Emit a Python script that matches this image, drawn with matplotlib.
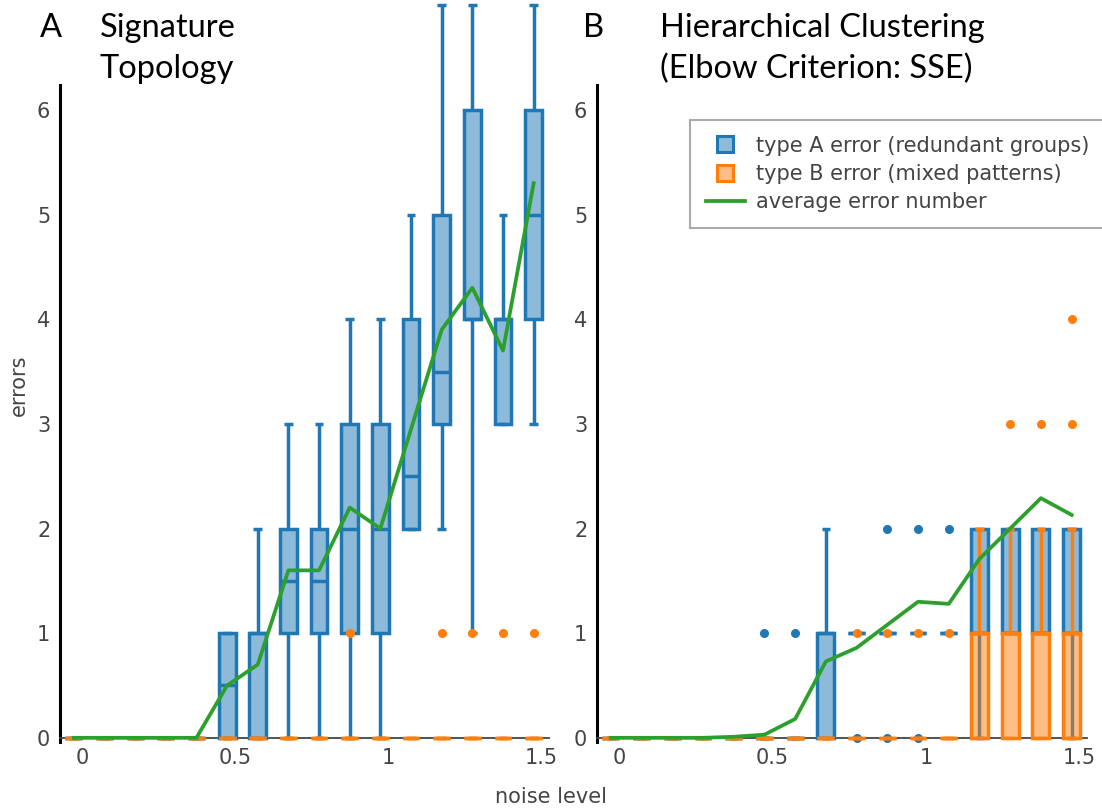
import matplotlib.pyplot as plt
from matplotlib.lines import Line2D
from matplotlib.transforms import ScaledTranslation

plt.rcParams['font.family'] = ['DejaVu Sans']

noise = [0.0, 0.1, 0.2, 0.3, 0.4, 0.5, 0.6, 0.7, 0.8, 0.9, 1.0, 1.1, 1.2, 1.3, 1.4, 1.5]

# A: signature topology -- type A errors (box stats per noise level)
topo_a_q1 = [0, 0, 0, 0, 0, 0, 0, 1, 1, 1, 1, 2, 3, 4, 3, 4]
topo_a_med = [0, 0, 0, 0, 0, 0.5, 1, 1.5, 1.5, 2, 2, 2.5, 3.5, 4, 4, 5]
topo_a_q3 = [0, 0, 0, 0, 0, 1, 1, 2, 2, 3, 3, 4, 5, 6, 4, 6]
topo_a_lo = [0, 0, 0, 0, 0, 0, 0, 0, 0, 0, 0, 2, 2, 1, 3, 3]
topo_a_hi = [0, 0, 0, 0, 0, 1, 2, 3, 3, 4, 4, 5, 7, 7, 5, 7]
topo_a_out = [[] for _ in noise]

# A: type B errors are zero everywhere except a few outliers
topo_b_q1 = [0] * 16
topo_b_med = [0] * 16
topo_b_q3 = [0] * 16
topo_b_lo = [0] * 16
topo_b_hi = [0] * 16
topo_b_out = [[], [], [], [], [], [], [], [], [], [1], [], [], [1], [1], [1], [1]]

topo_avg = [0, 0, 0, 0, 0, 0.5, 0.7, 1.6, 1.6, 2.2, 2.0, 2.95, 3.9, 4.3, 3.7, 5.3]

# B: hierarchical clustering (elbow / SSE)
hier_a_q1 = [0, 0, 0, 0, 0, 0, 0, 0, 1, 1, 1, 1, 1, 1, 1, 1]
hier_a_med = [0, 0, 0, 0, 0, 0, 0, 1, 1, 1, 1, 1, 1, 1, 1, 1]
hier_a_q3 = [0, 0, 0, 0, 0, 0, 0, 1, 1, 1, 1, 1, 2, 2, 2, 2]
hier_a_lo = [0, 0, 0, 0, 0, 0, 0, 0, 1, 1, 1, 1, 0, 1, 1, 0]
hier_a_hi = [0, 0, 0, 0, 0, 0, 0, 2, 1, 1, 1, 1, 2, 2, 2, 2]
hier_a_out = [[], [], [], [], [], [1], [1], [], [0], [0, 2], [0, 2], [2], [], [], [], []]

hier_b_q1 = [0] * 16
hier_b_med = [0] * 12 + [1, 1, 1, 1]
hier_b_q3 = [0] * 12 + [1, 1, 1, 1]
hier_b_lo = [0] * 16
hier_b_hi = [0] * 12 + [2, 2, 2, 2]
hier_b_out = [[], [], [], [], [], [], [], [], [1], [1], [1], [1], [], [3], [3], [3, 4]]

hier_avg = [0, 0, 0, 0, 0.01, 0.03, 0.18, 0.73, 0.86, 1.08, 1.30, 1.28, 1.71, 2.0, 2.29, 2.13]

BLUE = '#1f77b4'
ORANGE = '#ff7f0e'
GREEN = '#2ca02c'
GREY = '#444444'
LW = 2.5


def box_stats(q1, med, q3, lo, hi, out):
    return [dict(q1=a, med=b, q3=c, whislo=d, whishi=e, fliers=f)
            for a, b, c, d, e, f in zip(q1, med, q3, lo, hi, out)]


def draw_boxes(ax, stats, color, z):
    line = dict(color=color, linewidth=LW, zorder=z, solid_capstyle='butt')
    ax.bxp(stats, positions=noise, widths=0.055, capwidths=0.028,
           patch_artist=True, manage_ticks=False,
           boxprops=dict(facecolor=color + '80', edgecolor=color,
                         linewidth=LW, zorder=z),
           medianprops=line, whiskerprops=line, capprops=line,
           flierprops=dict(marker='o', markersize=6.5, markerfacecolor=color,
                           markeredgecolor='none', zorder=z))


def style_axes(ax):
    ax.set_xlim(-0.045, 1.55)
    ax.set_ylim(-0.04, 7.05)
    for s in ('top', 'right'):
        ax.spines[s].set_visible(False)
    ax.spines['left'].set_bounds(-0.04, 6.24)
    ax.spines['left'].set_linewidth(2.2)
    ax.spines['left'].set_color('black')
    ax.spines['bottom'].set_position(('data', 0))
    ax.spines['bottom'].set_color(GREY)
    ax.spines['bottom'].set_linewidth(1.3)
    ax.set_xticks([0, 0.5, 1, 1.5], ['0', '0.5', '1', '1.5'])
    ax.set_yticks(range(7))
    ax.tick_params(length=0, labelsize=15, labelcolor=GREY, pad=7)
    # tick labels sit a little right of the data positions
    nudge = ScaledTranslation(8 / 100, 0, fig.dpi_scale_trans)
    for lab in ax.get_xticklabels():
        lab.set_transform(lab.get_transform() + nudge)


fig = plt.figure(figsize=(11.02, 8.10), dpi=100)
W, H = 1102, 810
ax1 = fig.add_axes([60 / W, 68 / H, 489 / W, 742 / H])
ax2 = fig.add_axes([597 / W, 68 / H, 490 / W, 742 / H])

panels = [
    (ax1, box_stats(topo_a_q1, topo_a_med, topo_a_q3, topo_a_lo, topo_a_hi, topo_a_out),
     box_stats(topo_b_q1, topo_b_med, topo_b_q3, topo_b_lo, topo_b_hi, topo_b_out), topo_avg),
    (ax2, box_stats(hier_a_q1, hier_a_med, hier_a_q3, hier_a_lo, hier_a_hi, hier_a_out),
     box_stats(hier_b_q1, hier_b_med, hier_b_q3, hier_b_lo, hier_b_hi, hier_b_out), hier_avg),
]
for ax, stats_a, stats_b, avg in panels:
    draw_boxes(ax, stats_a, BLUE, 3)
    draw_boxes(ax, stats_b, ORANGE, 4)
    ax.plot(noise, avg, color=GREEN, linewidth=2.7, zorder=5)
    style_axes(ax)

# panel letters and titles
title_kw = dict(family='Lato', fontsize=23.5, color='black', va='baseline')
fig.text(40 / W, 1 - 37 / H, 'A', **title_kw)
fig.text(100 / W, 1 - 37 / H, 'Signature', **title_kw)
fig.text(100 / W, 1 - 78 / H, 'Topology', **title_kw)
fig.text(583 / W, 1 - 37 / H, 'B', **title_kw)
fig.text(660 / W, 1 - 37 / H, 'Hierarchical Clustering', **title_kw)
fig.text(660 / W, 1 - 78 / H, '(Elbow Criterion: SSE)', **title_kw)

fig.text(19 / W, 1 - 385 / H, 'errors', rotation=90, fontsize=15, color=GREY,
         ha='center', va='center')
fig.text(551 / W, 1 - 797 / H, 'noise level', fontsize=15, color=GREY,
         ha='center', va='center')

handles = [
    Line2D([], [], linestyle='none', marker='s', markersize=12,
           markerfacecolor=BLUE + '80', markeredgecolor=BLUE, markeredgewidth=2.2),
    Line2D([], [], linestyle='none', marker='s', markersize=12,
           markerfacecolor=ORANGE + '80', markeredgecolor=ORANGE, markeredgewidth=2.2),
    Line2D([], [], color=GREEN, linewidth=2.7),
]
labels = ['type A error (redundant groups)', 'type B error (mixed patterns)',
          'average error number']
leg = ax2.legend(handles, labels, loc='upper left',
                 bbox_to_anchor=(690 / W, 1 - 120 / H), bbox_transform=fig.transFigure,
                 fontsize=15, labelcolor=GREY, frameon=True, fancybox=False,
                 framealpha=1, edgecolor='#aaaaaa', borderaxespad=0,
                 borderpad=0.75, labelspacing=0.4, handlelength=1.9,
                 handletextpad=0.5)
leg.get_frame().set_linewidth(1.5)

fig.savefig('out.png', dpi=100)
